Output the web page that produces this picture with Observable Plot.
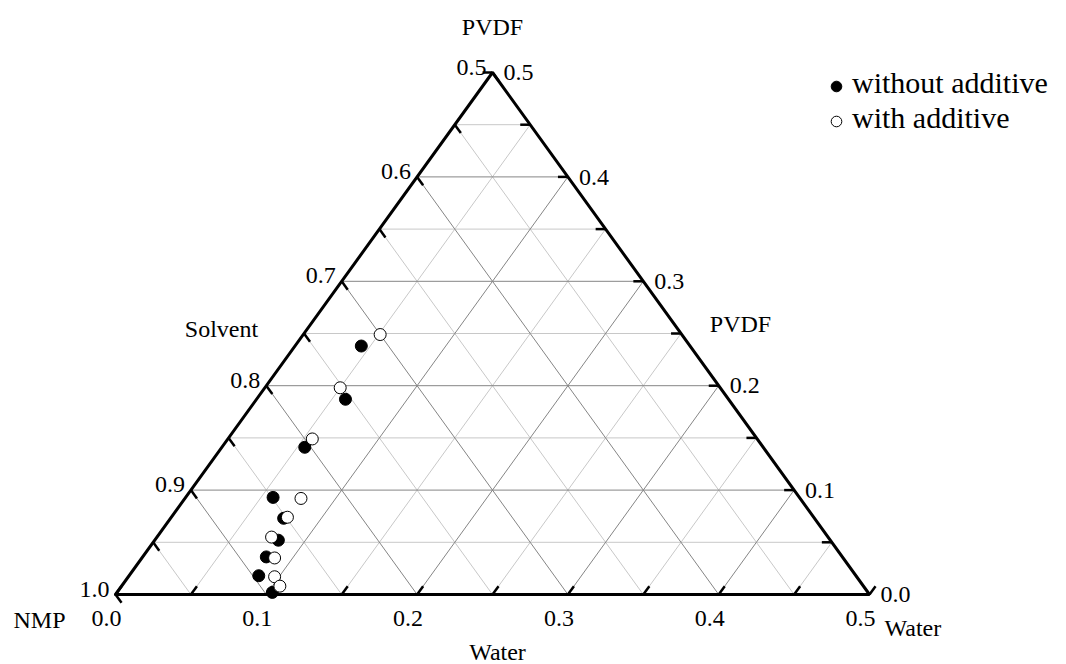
<!DOCTYPE html>
<html><head><meta charset="utf-8">
<script src="https://cdn.jsdelivr.net/npm/d3@7"></script>
<script src="https://cdn.jsdelivr.net/npm/@observablehq/plot@0.6"></script>
<style>
body{margin:0;background:#fff;}
#wrap{position:relative;width:1066px;height:664px;font-family:"Liberation Serif","Times New Roman",serif;}
#legend{position:absolute;left:830px;top:65px;font-size:30px;line-height:35px;color:#000;white-space:nowrap}
#legend svg{vertical-align:middle;margin-right:9px}
</style></head><body>
<div id="wrap"><div id="legend"></div></div>
<script>
// ---- data (mass fractions) ----
const waterWithout = [0.044, 0.059, 0.055, 0.058, 0.075, 0.082, 0.082, 0.086, 0.103];
const pvdfWithout  = [0.238, 0.187, 0.141, 0.093, 0.073, 0.052, 0.036, 0.018, 0.002];
const waterWith    = [0.051, 0.050, 0.056, 0.077, 0.077, 0.076, 0.088, 0.097, 0.105];
const pvdfWith     = [0.249, 0.198, 0.149, 0.092, 0.074, 0.055, 0.035, 0.017, 0.008];
const waterTicks   = [0.0, 0.1, 0.2, 0.3, 0.4, 0.5];
const solventTicks = [0.5, 0.6, 0.7, 0.8, 0.9, 1.0];
const pvdfTicks    = [0.0, 0.1, 0.2, 0.3, 0.4, 0.5];
const majorLevels  = [0.1, 0.2, 0.3, 0.4];
const minorLevels  = [0.05, 0.15, 0.25, 0.35, 0.45];
const tickLevels   = [0, 0.05, 0.1, 0.15, 0.2, 0.25, 0.3, 0.35, 0.4, 0.45, 0.5];
const seriesNames  = ["without additive", "with additive"];

// ternary -> cartesian (x = water + pvdf/2, y = pvdf)
const toXY = (w, p) => ({x: w + p / 2, y: p});
const without = waterWithout.map((w, i) => toXY(w, pvdfWithout[i]));
const withAdd = waterWith.map((w, i) => toXY(w, pvdfWith[i]));

function gridSegs(levels) {
  const out = [];
  for (const v of levels) {
    out.push({x1: v / 2, y1: v, x2: 0.5 - v / 2, y2: v});           // constant PVDF
    out.push({x1: v, y1: 0, x2: (0.5 + v) / 2, y2: 0.5 - v});       // constant water
    out.push({x1: v, y1: 0, x2: v / 2, y2: v});                     // constant solvent
  }
  return out;
}
const d = 0.008, e = 0.0066;
const tickSegs = [];
for (const v of tickLevels) {
  tickSegs.push({x1: v, y1: 0, x2: v + d / 2, y2: d});                       // bottom (water)
  tickSegs.push({x1: 0.5 - v / 2, y1: v, x2: 0.5 - v / 2 - e, y2: v});       // right (PVDF)
  tickSegs.push({x1: v / 2, y1: v, x2: (v + d) / 2, y2: v - d});             // left (solvent)
}
const border = [[0, 0], [0.5, 0], [0.25, 0.5], [0, 0]];

const font = {fontFamily: "Liberation Serif, Times New Roman, serif", fontSize: 24, fill: "black"};

const chart = Plot.plot({
  width: 1066, height: 664,
  marginLeft: 115, marginRight: 197, marginTop: 72, marginBottom: 70,
  x: {domain: [0, 0.5], axis: null},
  y: {domain: [0, 0.5], axis: null},
  style: {fontFamily: "Liberation Serif, Times New Roman, serif", background: "white", overflow: "visible"},
  marks: [
    Plot.link(gridSegs(minorLevels), {x1: "x1", y1: "y1", x2: "x2", y2: "y2", stroke: "#c8c8c8", strokeWidth: 1}),
    Plot.link(gridSegs(majorLevels), {x1: "x1", y1: "y1", x2: "x2", y2: "y2", stroke: "#858585", strokeWidth: 1}),
    Plot.link(tickSegs, {x1: "x1", y1: "y1", x2: "x2", y2: "y2", stroke: "black", strokeWidth: 2.5}),
    Plot.line(border, {x: d => d[0], y: d => d[1], stroke: "black", strokeWidth: 3, strokeLinejoin: "miter"}),
    Plot.dot(without, {x: "x", y: "y", r: 6, fill: "black", stroke: "black", strokeWidth: 1}),
    Plot.dot(withAdd, {x: "x", y: "y", r: 6, fill: "white", stroke: "black", strokeWidth: 1}),
    // tick labels
    Plot.text(waterTicks, {x: v => v, y: () => 0, text: v => v.toFixed(1), dx: -9, dy: 24, lineAnchor: "middle", ...font}),
    Plot.text(solventTicks, {x: s => (1 - s) / 2, y: s => 1 - s, text: s => s.toFixed(1), textAnchor: "end", dx: -6, dy: 2, lineAnchor: "bottom", ...font}),
    Plot.text(pvdfTicks, {x: v => 0.5 - v / 2, y: v => v, text: v => v.toFixed(1), textAnchor: "start", dx: 11, lineAnchor: "middle", ...font}),
    // axis titles
    Plot.text(["PVDF"], {frameAnchor: "top", dy: -45, lineAnchor: "middle", ...font}),
    Plot.text(["Solvent"], {frameAnchor: "left", dx: 106, dy: -4, textAnchor: "middle", lineAnchor: "middle", ...font}),
    Plot.text(["PVDF"], {frameAnchor: "right", dx: -129, dy: -9, textAnchor: "middle", lineAnchor: "middle", ...font}),
    Plot.text(["NMP"], {frameAnchor: "bottom-left", dx: -76, dy: 26, textAnchor: "middle", lineAnchor: "middle", ...font}),
    Plot.text(["Water"], {frameAnchor: "bottom-right", dx: 15, dy: 34, textAnchor: "start", lineAnchor: "middle", ...font}),
    Plot.text(["Water"], {frameAnchor: "bottom", dx: 5, dy: 58, textAnchor: "middle", lineAnchor: "middle", ...font})
  ]
});
document.getElementById("wrap").prepend(chart);

// legend
const legend = document.getElementById("legend");
seriesNames.forEach((name, i) => {
  const row = document.createElement("div");
  row.innerHTML = `<svg width="13" height="13"><circle cx="6.5" cy="6.5" r="5.3" fill="${i === 0 ? "black" : "white"}" stroke="black" stroke-width="1"/></svg>${name}`;
  legend.appendChild(row);
});
</script>
</body></html>
